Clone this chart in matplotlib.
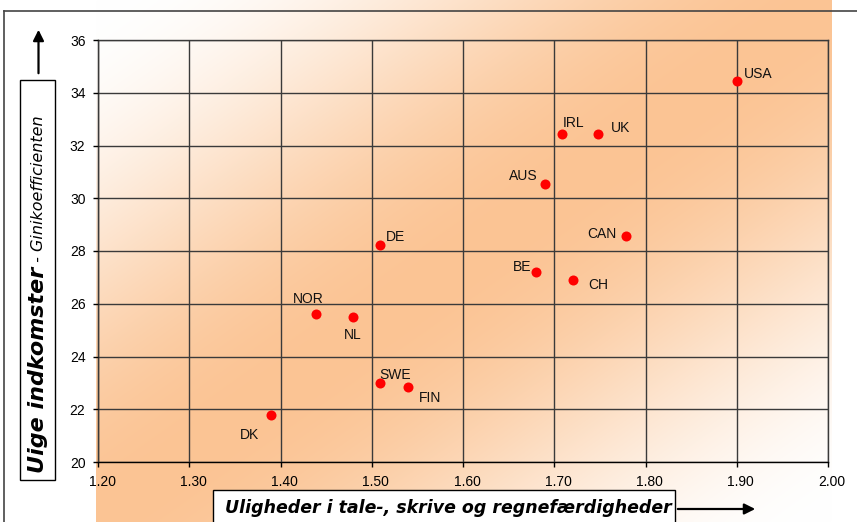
import numpy as np
import matplotlib
matplotlib.use("Agg")
import matplotlib.pyplot as plt
from matplotlib.patches import Rectangle, FancyArrowPatch
from matplotlib.lines import Line2D
from matplotlib.transforms import ScaledTranslation

# ---- data ----
countries = ["USA", "IRL", "UK", "AUS", "CAN", "BE", "CH", "DE", "NOR", "NL", "SWE", "FIN", "DK"]
skill_inequality = [1.900, 1.709, 1.748, 1.690, 1.779, 1.680, 1.721, 1.509, 1.439, 1.479, 1.509, 1.540, 1.390]
gini = [34.43, 32.42, 32.42, 30.53, 28.56, 27.21, 26.89, 28.22, 25.60, 25.48, 22.98, 22.83, 21.77]
x_ticks = [1.20, 1.30, 1.40, 1.50, 1.60, 1.70, 1.80, 1.90, 2.00]
y_ticks = [20, 22, 24, 26, 28, 30, 32, 34, 36]
x_label = "Uligheder i tale-, skrive og regnefærdigheder"
y_label_bold = "Uige indkomster"
y_label_rest = " - Ginikoefficienten"

# label placement (pixel offsets, alignment)
label_pos = {
    "USA": (7, 7, "left"), "IRL": (0, 11, "left"), "UK": (13, 6, "left"),
    "AUS": (-8, 8, "right"), "CAN": (-10, 2, "right"), "BE": (-5, 5, "right"),
    "CH": (15, -5, "left"), "DE": (6, 8, "left"), "NOR": (-8, 15, "center"),
    "NL": (0, -18, "center"), "SWE": (-1, 8, "left"), "FIN": (11, -11, "left"),
    "DK": (-12, -20, "right"),
}

W, H = 857, 522
fig = plt.figure(figsize=(W / 100, H / 100), dpi=100)
fig.patch.set_facecolor("white")

def fx(px):
    return px / W

def fy(py):
    return 1 - py / H

# ---- gradient background ----
gx0, gx1 = 96, 831
bg = fig.add_axes([fx(gx0), 0, fx(gx1 - gx0), 1], zorder=0)
nx, ny = 400, 300
u = np.linspace(0, 1, nx)[None, :]
v = np.linspace(0, 1, ny)[:, None]
t = (u + v) / 2
f = 0.5 * (1 - np.cos(2 * np.pi * t))
peak = np.array([251, 196, 148]) / 255.0
white = np.array([1.0, 1.0, 1.0])
img = white[None, None, :] * (1 - f[..., None]) + peak[None, None, :] * f[..., None]
bg.imshow(img, aspect="auto", extent=[0, 1, 0, 1], origin="upper", interpolation="bilinear")
bg.set_axis_off()

# ---- main axes ----
ax = fig.add_axes([fx(98), fy(462), fx(828 - 98), (462 - 40) / H], zorder=2)
ax.set_facecolor("none")
ax.scatter(skill_inequality, gini, s=52, c="#ff0000", marker="o", linewidths=0, zorder=4)
for name, xv, yv in zip(countries, skill_inequality, gini):
    dx, dy, ha = label_pos[name]
    ax.annotate(name, (xv, yv), xytext=(dx, dy), textcoords="offset pixels",
                ha=ha, va="center", fontsize=10, family="Liberation Sans",
                color="#111111", zorder=5)

ax.set_xlim(1.20, 2.00)
ax.set_ylim(20, 36)
ax.set_xticks(x_ticks)
ax.set_yticks(y_ticks)
ax.set_xticklabels([f"{v:.2f}" for v in x_ticks], family="Liberation Sans", fontsize=10)
ax.set_yticklabels([str(v) for v in y_ticks], family="Liberation Sans", fontsize=10)
ax.tick_params(direction="out", length=3.5, width=1.0, color="black", pad=5.5)
offset = ScaledTranslation(4 / 100, 0, fig.dpi_scale_trans)
for lbl in ax.get_xticklabels():
    lbl.set_transform(lbl.get_transform() + offset)
ax.grid(True, color="#3a3a3a", linewidth=1.0)
ax.set_axisbelow(False)
for side in ["left", "bottom"]:
    ax.spines[side].set_color("black")
    ax.spines[side].set_linewidth(1.0)
for side in ["top", "right"]:
    ax.spines[side].set_color("#3a3a3a")
    ax.spines[side].set_linewidth(1.0)

# ---- outer frame ----
fig.add_artist(Line2D([fx(3.5), fx(3.5)], [0, fy(11)], color="#444444", lw=1.2, zorder=3))
fig.add_artist(Line2D([fx(3.5), 1], [fy(11), fy(11)], color="#444444", lw=1.2, zorder=3))

# ---- y label box + arrow ----
fig.add_artist(Rectangle((fx(20), fy(480)), fx(35), 400 / H, transform=fig.transFigure,
                         facecolor="white", edgecolor="black", lw=1.0, zorder=3))
fig.add_artist(FancyArrowPatch((fx(38.5), fy(76)), (fx(38.5), fy(27)), transform=fig.transFigure,
                               arrowstyle="-|>", mutation_scale=16, color="black", lw=1.6, zorder=3))
t1 = fig.text(fx(38.5), fy(473), y_label_bold, rotation=90, rotation_mode="anchor",
              ha="left", va="center", fontsize=16, fontweight="bold", fontstyle="italic",
              family="DejaVu Sans", zorder=4)
fig.canvas.draw()
ext = t1.get_window_extent()
fig.text(fx(38.5), ext.y1 / H, y_label_rest, rotation=90, rotation_mode="anchor",
         ha="left", va="center", fontsize=11.5, fontstyle="italic",
         family="DejaVu Sans", zorder=4)

# ---- x label box + arrow ----
fig.add_artist(Rectangle((fx(213), fy(540)), fx(675 - 213), 50 / H, transform=fig.transFigure,
                         facecolor="white", edgecolor="black", lw=1.0, zorder=3))
fig.add_artist(FancyArrowPatch((fx(675), fy(509)), (fx(758), fy(509)), transform=fig.transFigure,
                               arrowstyle="-|>", mutation_scale=16, color="black", lw=1.6, zorder=3))
fig.text(fx(448), fy(508), x_label, ha="center", va="center", fontsize=12.5,
         fontweight="bold", fontstyle="italic", family="DejaVu Sans", zorder=4)

fig.savefig("out.png", dpi=100)
